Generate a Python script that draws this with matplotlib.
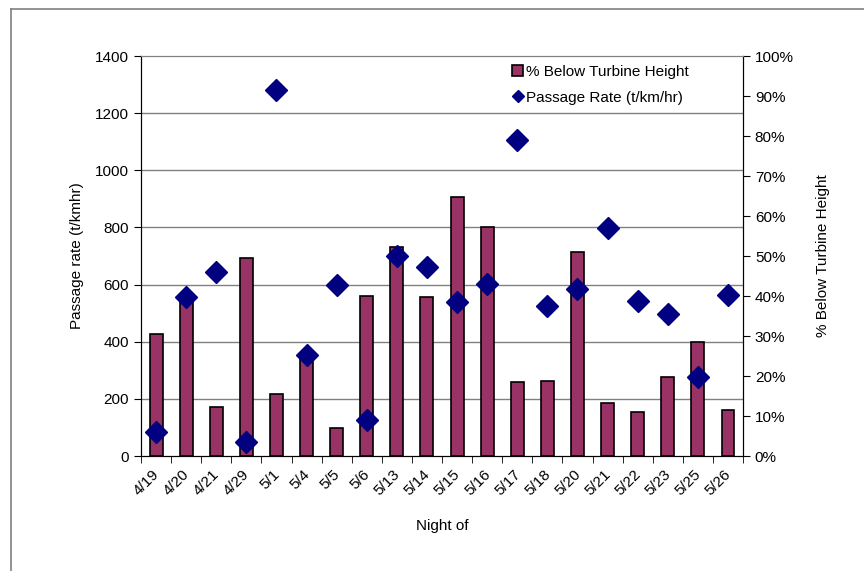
import numpy as np
import matplotlib
matplotlib.use("Agg")
import matplotlib.pyplot as plt
import matplotlib.transforms as mtransforms
from matplotlib.lines import Line2D

plt.rcParams['font.family'] = ['Liberation Sans', 'DejaVu Sans']

nights = ['4/19', '4/20', '4/21', '4/29', '5/1', '5/4', '5/5', '5/6', '5/13', '5/14',
          '5/15', '5/16', '5/17', '5/18', '5/20', '5/21', '5/22', '5/23', '5/25', '5/26']
pct_below = [30.4, 40.3, 12.2, 49.4, 15.6, 25.0, 7.1, 39.9, 52.2, 39.7,
             64.7, 57.3, 18.6, 18.8, 51.0, 13.3, 11.0, 19.7, 28.6, 11.5]
passage_rate = [85, 555, 645, 50, 1280, 355, 600, 125, 700, 660,
                540, 602, 1105, 525, 585, 798, 542, 497, 276, 563]

bar_color = '#993366'
dot_color = '#000080'

fig = plt.figure(figsize=(8.64, 5.71), dpi=100)
# outer frame lines (top and left)
fig.add_artist(Line2D([11 / 864, 1], [1 - 9 / 571, 1 - 9 / 571], color='#808080', lw=1.2))
fig.add_artist(Line2D([11 / 864, 11 / 864], [0, 1 - 9 / 571], color='#808080', lw=1.2))

ax = fig.add_axes([0.1632, 0.2014, 0.6968, 0.7005])
ax2 = ax.twinx()
ax.set_zorder(2)
ax.patch.set_visible(False)
ax2.set_zorder(1)

x = np.arange(len(nights))

ax2.bar(x, pct_below, width=0.43, color=bar_color, edgecolor='black', linewidth=1.2, zorder=3)
ax2.set_ylim(0, 100)
ax2.set_yticks(np.arange(0, 101, 10))
ax2.set_yticklabels([f'{v}%' for v in range(0, 101, 10)])
ax2.set_yticks(np.arange(200, 1401, 200) / 14, minor=True)
ax2.grid(which='minor', axis='y', color='#808080', lw=1.0, zorder=0)
ax2.tick_params(which='minor', length=0)
ax2.set_ylabel('% Below Turbine Height', fontsize=11, labelpad=16)

ax.plot(x, passage_rate, linestyle='none', marker='D', markersize=11,
        color=dot_color, zorder=4, clip_on=False)
ax.set_ylim(0, 1400)
ax.set_yticks(np.arange(0, 1401, 200))
ax.set_xlim(-0.5, len(nights) - 0.5)
ax.set_xticks(x)
ax.set_xticklabels(nights, rotation=45, ha='right', rotation_mode='anchor')
ax.set_xticks(np.arange(-0.5, len(nights), 1), minor=True)
ax.tick_params(axis='x', which='major', length=0, pad=8)
ax.tick_params(axis='x', which='minor', length=5, direction='out')
ax.set_ylabel('Passage rate (t/kmhr)', fontsize=11, labelpad=8)
ax.set_xlabel('Night of', fontsize=11, labelpad=15)

shift = mtransforms.ScaledTranslation(-4 / 100, 0, fig.dpi_scale_trans)
for lbl in ax.get_xticklabels():
    lbl.set_transform(lbl.get_transform() + shift)

for a in (ax, ax2):
    a.tick_params(labelsize=11)
    a.spines['top'].set_color('#808080')
ax.tick_params(axis='y', direction='out', length=5)
ax2.tick_params(axis='y', which='major', direction='out', length=5)

handles = [
    plt.Rectangle((0, 0), 1, 1, facecolor=bar_color, edgecolor='black', linewidth=1.2),
    Line2D([], [], linestyle='none', marker='D', markersize=6, color=dot_color),
]
ax.legend(handles, ['% Below Turbine Height', 'Passage Rate (t/km/hr)'],
          loc='upper right', bbox_to_anchor=(0.925, 1.0), frameon=False, fontsize=11,
          handlelength=0.7, handletextpad=0.2, labelspacing=0.75, borderaxespad=0.2)

fig.savefig('out.png', dpi=100)
